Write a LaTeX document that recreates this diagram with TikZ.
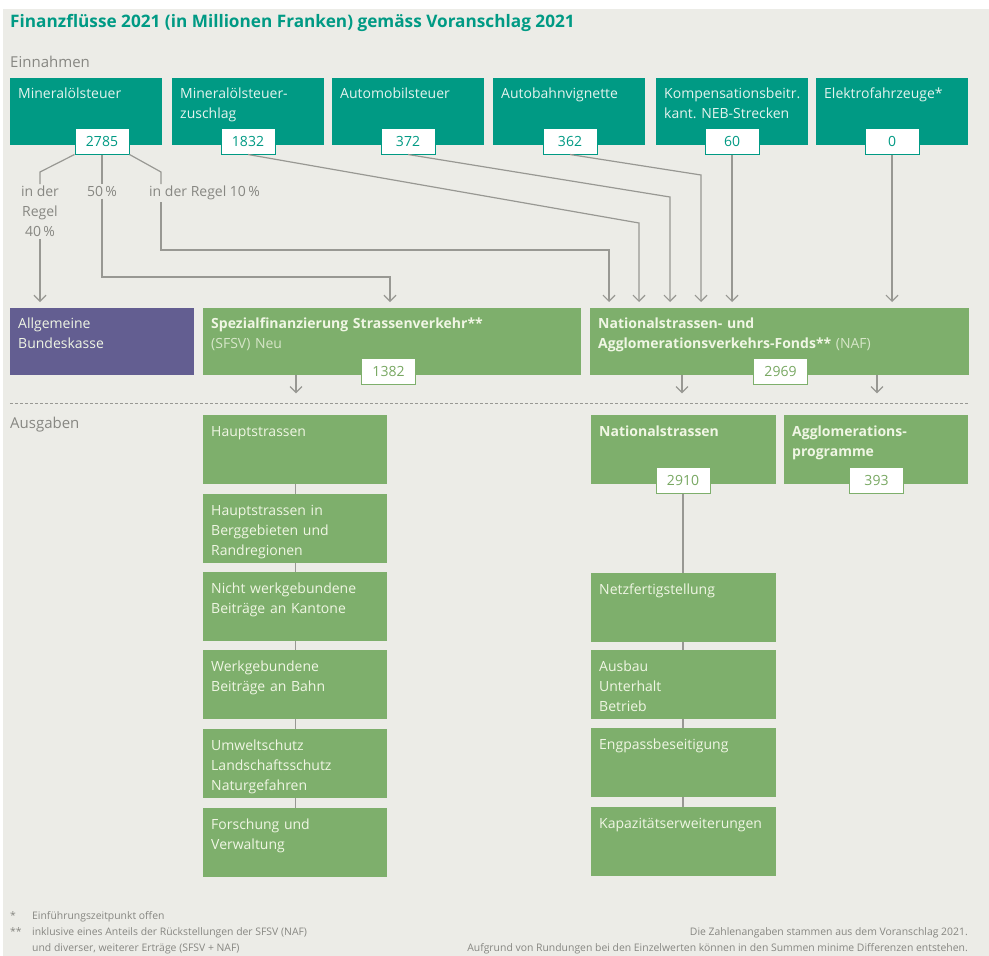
\documentclass[tikz,border=0pt]{standalone}
\usepackage{fontspec}
\setmainfont{Open Sans}
\usepackage{xcolor}
\usetikzlibrary{arrows.meta, positioning}

\definecolor{bgray}{RGB}{236,236,231}
\definecolor{tealbox}{RGB}{0,154,132}
\definecolor{greenbox}{RGB}{126,175,108}
\definecolor{purplebox}{RGB}{99,94,145}
\definecolor{linegray}{RGB}{152,152,147}
\definecolor{labelgray}{RGB}{135,135,130}
\definecolor{tealtext}{RGB}{228,243,238}
\definecolor{greentext}{RGB}{240,246,228}
\definecolor{paletext}{RGB}{214,230,200}
\definecolor{greennum}{RGB}{120,168,98}

\begin{document}
\begin{tikzpicture}[x=1pt, y=-1pt,
    every node/.style={font=\fontsize{14}{20}\selectfont},
    einbox/.style={fill=tealbox, text=tealtext, anchor=north west, inner xsep=8pt, inner ysep=0pt,
        text width=136pt, text height=20pt, text depth=47pt, align=left},
    fondsbox/.style={fill=greenbox, text=greentext, anchor=north west, inner xsep=8pt, inner ysep=0pt,
        text height=20pt, text depth=47pt, align=left},
    ausbox/.style={fill=greenbox, text=greentext, anchor=north west, inner xsep=8pt, inner ysep=0pt,
        text width=168pt, text height=21pt, text depth=48pt, align=left},
    betrag/.style={draw=tealbox, fill=white, text=tealbox, line width=1pt,
        minimum width=54pt, minimum height=26pt, inner sep=0pt},
    gbetrag/.style={betrag, draw=greenbox, text=greennum},
    anteil/.style={text=labelgray, inner sep=2pt, align=center},
    link/.style={draw=linegray, line width=1.2pt},
    flow/.style={link, -{Straight Barb[length=6pt,width=12pt]}},
    zufluss/.style={flow, shorten >=6pt},
    trenn/.style={draw=linegray, line width=0.8pt, dash pattern=on 3pt off 2pt}
]

    \fill[white] (0,0) rectangle (989,956);
    \fill[bgray] (3,9) rectangle (989,956);
    \useasboundingbox (0,0) rectangle (989,956);

    \node[anchor=base west, inner sep=0pt, text=tealbox, font=\fontsize{17.2}{20}\selectfont\bfseries] (titel) at (10,27)
        {Finanzflüsse 2021 (in Millionen Franken) gemäss Voranschlag 2021};
    \node[anchor=base west, inner sep=0pt, text=labelgray, font=\fontsize{15}{20}\selectfont] (einnahmen) at (10,67) {Einnahmen};

    % Einnahmen
    \node[einbox] (minst) at (10,78) {Mineralölsteuer};
    \node[einbox] (minzu) at (172,78) {Mineralölsteuer-\\zuschlag};
    \node[einbox] (autost) at (332,78) {Automobilsteuer};
    \node[einbox] (vign) at (493,78) {Autobahnvignette};
    \node[einbox] (komp) at (656,78) {Kompensationsbeitr.\\kant.\ NEB-Strecken};
    \node[einbox] (elektro) at (816,78) {Elektrofahrzeuge*};

    \node[betrag] (n2785) at (102,141) {2785};
    \node[betrag] (n1832) at (248,141) {1832};
    \node[betrag] (n372) at (408,141) {372};
    \node[betrag] (n362) at (570,141) {362};
    \node[betrag] (n60) at (732,141) {60};
    \node[betrag] (n0) at (892,141) {0};

    % Anteile Mineraloelsteuer
    \node[anteil, anchor=north] (lbl40) at (40,184) {in der\\Regel\\40\,\%};
    \node[anteil, anchor=north] (lbl50) at (102,184) {50\,\%};
    \node[anteil, anchor=north west] (lbl10) at (147,184) {in der Regel 10\,\%};

    % Fonds
    \node[fondsbox, fill=purplebox, text width=168pt] (bkasse) at (10,308) {Allgemeine\\Bundeskasse};
    \node[fondsbox, text width=362pt] (sfsv) at (203,308)
        {\textbf{Spezialfinanzierung Strassenverkehr**}\\\textcolor{paletext}{(SFSV) Neu}};
    \node[fondsbox, text width=363pt] (naf) at (590,308)
        {\textbf{Nationalstrassen- und}\\\textbf{Agglomerationsverkehrs-Fonds**} \textcolor{paletext}{(NAF)}};
    \node[gbetrag] (n1382) at (388.5,371.5) {1382};
    \node[gbetrag] (n2969) at (780.5,371.5) {2969};

    \draw[link] (n2785.south west) -- (40,172) -- (lbl40.north);
    \draw[zufluss] (lbl40.south) -- (lbl40.south |- bkasse.north);
    \draw[link] (n2785.south) -- (lbl50.north);
    \draw[zufluss] (lbl50.south) |- (390,277) -- ([xshift=187pt]sfsv.north west);
    \draw[link] (n2785.south east) -- (161,172) -- ([xshift=14pt]lbl10.north west);
    \draw[zufluss] ([xshift=14pt]lbl10.south west) |- (609,250) -- ([xshift=19pt]naf.north west);
    \draw[zufluss] (n1832.south) -- (639,223) -- ([xshift=49pt]naf.north west);
    \draw[zufluss] (n372.south) -- (670,197) -- ([xshift=80pt]naf.north west);
    \draw[zufluss] (n362.south) -- (701,175) -- ([xshift=111pt]naf.north west);
    \draw[zufluss] (n60.south) -- (n60.south |- naf.north);
    \draw[zufluss] (n0.south) -- (n0.south |- naf.north);

    \draw[flow] ([xshift=93pt]sfsv.south west) -- ++(0,18);
    \draw[flow] ([xshift=92pt]naf.south west) -- ++(0,18);
    \draw[flow] ([xshift=287pt]naf.south west) -- ++(0,18);

    \draw[trenn] (10,403) -- (968,403);
    \node[anchor=base west, inner sep=0pt, text=labelgray, font=\fontsize{15}{20}\selectfont] (ausgaben) at (10,428) {Ausgaben};

    % Ausgaben SFSV
    \node[ausbox] (h1) at (203,415) {Hauptstrassen};
    \node[ausbox] (h2) at (203,494) {Hauptstrassen in\\Berggebieten und\\Randregionen};
    \node[ausbox] (h3) at (203,572) {Nicht werkgebundene\\Beiträge an Kantone};
    \node[ausbox] (h4) at (203,650) {Werkgebundene\\Beiträge an Bahn};
    \node[ausbox] (h5) at (203,729) {Umweltschutz\\Landschaftsschutz\\Naturgefahren};
    \node[ausbox] (h6) at (203,808) {Forschung und\\Verwaltung};
    \foreach \a/\b in {h1/h2, h2/h3, h3/h4, h4/h5, h5/h6}
        \draw[link] (\a) -- (\b);

    % Ausgaben NAF
    \node[ausbox, text width=169pt] (nat) at (591,415) {\textbf{Nationalstrassen}};
    \node[ausbox] (agglo) at (784,415) {\textbf{Agglomerations-}\\\textbf{programme}};
    \node[gbetrag] (n2910) at (683,480) {2910};
    \node[gbetrag] (n393) at (876.5,480) {393};

    \node[ausbox, text width=169pt] (netz) at (591,573) {Netzfertigstellung};
    \node[ausbox, text width=169pt] (ausbau) at (591,650) {Ausbau\\Unterhalt\\Betrieb};
    \node[ausbox, text width=169pt] (engpass) at (591,728) {Engpassbeseitigung};
    \node[ausbox, text width=169pt] (kapaz) at (591,807) {Kapazitätserweiterungen};
    \draw[link] (n2910.south) -- (n2910.south |- netz.north);
    \foreach \a/\b in {netz/ausbau, ausbau/engpass, engpass/kapaz}
        \draw[link] (\a.south -| n2910) -- (\b.north -| n2910);

    % Fussnoten
    \begin{scope}[every node/.style={font=\fontsize{10.4}{15}\selectfont, text=labelgray, inner sep=0pt, anchor=base west}]
        \node (stern1) at (10,919) {*};
        \node (fn1) at (32,919) {Einführungszeitpunkt offen};
        \node (stern2) at (10,935) {**};
        \node (fn2) at (32,935) {inklusive eines Anteils der Rückstellungen der SFSV (NAF)};
        \node (fn3) at (32,951) {und diverser, weiterer Erträge (SFSV + NAF)};
        \node[anchor=base east] (quelle) at (968,935) {Die Zahlenangaben stammen aus dem Voranschlag 2021.};
        \node[anchor=base east] (rundung) at (968,951) {Aufgrund von Rundungen bei den Einzelwerten können in den Summen minime Differenzen entstehen.};
    \end{scope}

\end{tikzpicture}
\end{document}
